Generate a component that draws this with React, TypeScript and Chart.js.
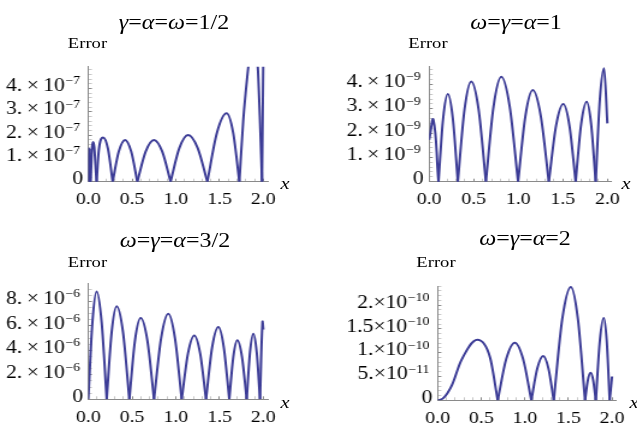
import React, { useEffect, useRef } from 'react';
import { Chart, registerables } from 'chart.js';

Chart.register(...registerables);

// ---------- data ----------
const xTickValues = [0, 0.5, 1, 1.5, 2];
const xTickLabels = ['0.0', '0.5', '1.0', '1.5', '2.0'];
const xMax = 2.05;

// Panel 1: γ=α=ω=1/2   (values in units of 1e-7); a repeated x marks a cusp (zero)
const p1Title = 'γ=α=ω=1/2';
const p1Unit = 1e-7;
const p1X = [0, 0.006, 0.012, 0.012, 0.018, 0.024, 0.024, 0.055, 0.095, 0.095, 0.12, 0.17, 0.225, 0.278, 0.278, 0.348, 0.42, 0.49, 0.56, 0.56, 0.655, 0.75, 0.845, 0.94, 0.94, 1.04, 1.14, 1.25, 1.36, 1.36, 1.47, 1.58, 1.655, 1.726, 1.726, 1.77, 1.8, 1.83, 1.88, 1.935, 1.96, 1.985, 1.985, 2.0];
const p1Y = [0, 1.45, 0, 0, 1.4, 0, 0, 1.7, 0, 0, 1.35, 1.89, 1.4, 0, 0, 1.29, 1.79, 1.29, 0, 0, 1.29, 1.79, 1.29, 0, 0, 1.44, 2.0, 1.44, 0, 0, 2.1, 2.93, 2.1, 0, 0, 2.6, 3.9, 5.0, 6.5, 5.0, 2.8, 0, 0, 5.5];
const p1YTicks = [0, 1, 2, 3, 4];
const p1YMant = ['0', '1.\u2009×\u200910', '2.\u2009×\u200910', '3.\u2009×\u200910', '4.\u2009×\u200910'];
const p1YExp = ['', '−7', '−7', '−7', '−7'];
const p1YMax = 4.93;
const p1YMinor = 0.2;

// Panel 2: ω=γ=α=1   (units of 1e-9)
const p2Title = 'ω=γ=α=1';
const p2Unit = 1e-9;
const p2X = [0, 0.048, 0.105, 0.105, 0.157, 0.21, 0.266, 0.322, 0.322, 0.397, 0.473, 0.555, 0.637, 0.637, 0.723, 0.81, 0.904, 0.998, 0.998, 1.08, 1.163, 1.253, 1.343, 1.343, 1.424, 1.505, 1.575, 1.644, 1.644, 1.706, 1.768, 1.818, 1.869, 1.869, 1.916, 1.963, 2.0];
const p2Y = [1.72, 2.54, 0, 0, 2.6, 3.61, 2.6, 0, 0, 2.97, 4.12, 2.97, 0, 0, 3.1, 4.32, 3.1, 0, 0, 2.7, 3.77, 2.7, 0, 0, 2.3, 3.2, 2.3, 0, 0, 2.37, 3.29, 2.37, 0, 0, 3.4, 4.67, 2.4];
const p2YTicks = [0, 1, 2, 3, 4];
const p2YMant = ['0', '1.\u2009×\u200910', '2.\u2009×\u200910', '3.\u2009×\u200910', '4.\u2009×\u200910'];
const p2YExp = ['', '−9', '−9', '−9', '−9'];
const p2YMax = 4.73;
const p2YMinor = 0.2;

// Panel 3: ω=γ=α=3/2   (units of 1e-6)
const p3Title = 'ω=γ=α=3/2';
const p3Unit = 1e-6;
const p3X = [0, 0.047, 0.095, 0.152, 0.21, 0.21, 0.267, 0.324, 0.396, 0.469, 0.469, 0.533, 0.598, 0.675, 0.751, 0.751, 0.832, 0.914, 0.99, 1.067, 1.067, 1.139, 1.211, 1.278, 1.345, 1.345, 1.415, 1.486, 1.548, 1.611, 1.611, 1.657, 1.703, 1.756, 1.81, 1.81, 1.848, 1.886, 1.924, 1.962, 1.962, 1.99, 2.0];
const p3Y = [0, 6.3, 8.8, 6.3, 0, 0, 5.5, 7.59, 5.5, 0, 0, 4.8, 6.64, 4.8, 0, 0, 5.0, 6.99, 5.0, 0, 0, 3.75, 5.22, 3.75, 0, 0, 4.25, 5.9, 4.25, 0, 0, 3.47, 4.82, 3.47, 0, 0, 3.86, 5.36, 3.86, 0, 0, 6.3, 5.7];
const p3YTicks = [0, 2, 4, 6, 8];
const p3YMant = ['0', '2.\u2009×\u200910', '4.\u2009×\u200910', '6.\u2009×\u200910', '8.\u2009×\u200910'];
const p3YExp = ['', '−6', '−6', '−6', '−6'];
const p3YMax = 9.44;
const p3YMinor = 0.5;

// Panel 4: ω=γ=α=2   (units of 1e-10)
const p4Title = 'ω=γ=α=2';
const p4Unit = 1e-10;
const p4X = [0, 0.06, 0.16, 0.27, 0.454, 0.6, 0.688, 0.688, 0.786, 0.884, 0.979, 1.074, 1.074, 1.142, 1.21, 1.27, 1.331, 1.331, 1.429, 1.527, 1.608, 1.69, 1.69, 1.722, 1.754, 1.784, 1.814, 1.814, 1.86, 1.905, 1.939, 1.973, 1.973, 2.0];
const p4Y = [0, 0.04, 0.31, 0.84, 1.27, 0.9, 0, 0, 0.87, 1.21, 0.87, 0, 0, 0.67, 0.93, 0.67, 0, 0, 1.71, 2.38, 1.71, 0, 0, 0.42, 0.58, 0.42, 0, 0, 1.25, 1.73, 1.25, 0, 0, 0.5];
const p4YTicks = [0, 0.5, 1, 1.5, 2];
const p4YMant = ['0', '5.×10', '1.×10', '1.5×10', '2.×10'];
const p4YExp = ['', '−11', '−10', '−10', '−10'];
const p4YMax = 2.40;
const p4YMinor = 0.1;

// ---------- style / layout ----------
const S = 1.2; // horizontal stretch of the whole figure
const FONT = '"Liberation Serif", "DejaVu Serif", "Times New Roman", serif';
const LINE = '#3c3c96';
const AXIS = '#8a8a8a';
const MINOR = '#c8c8c8';

type Cfg = {
  title: string; unit: number; xs: number[]; ys: number[];
  yTicks: number[]; yMant: string[]; yExp: string[]; yMax: number; yMinor: number;
  box: { left: number; top: number; width: number; height: number };
  plot: { l: number; x2: number; t: number; b: number };
  titlePos: [number, number]; errPos: [number, number]; xPos: [number, number];
};

const PANELS: Cfg[] = [
  { title: p1Title, unit: p1Unit, xs: p1X, ys: p1Y, yTicks: p1YTicks, yMant: p1YMant, yExp: p1YExp, yMax: p1YMax, yMinor: p1YMinor,
    box: { left: 0, top: 0, width: 318, height: 212 }, plot: { l: 88.3, x2: 263.3, t: 66.7, b: 181.7 },
    titlePos: [174, 22], errPos: [87.5, 43], xPos: [285, 183] },
  { title: p2Title, unit: p2Unit, xs: p2X, ys: p2Y, yTicks: p2YTicks, yMant: p2YMant, yExp: p2YExp, yMax: p2YMax, yMinor: p2YMinor,
    box: { left: 318, top: 0, width: 319, height: 212 }, plot: { l: 428.7, x2: 606.3, t: 66.7, b: 181.7 },
    titlePos: [516, 22], errPos: [428, 43], xPos: [626, 183] },
  { title: p3Title, unit: p3Unit, xs: p3X, ys: p3Y, yTicks: p3YTicks, yMant: p3YMant, yExp: p3YExp, yMax: p3YMax, yMinor: p3YMinor,
    box: { left: 0, top: 212, width: 318, height: 215 }, plot: { l: 88.3, x2: 263.3, t: 283.7, b: 399.3 },
    titlePos: [175, 240], errPos: [87.5, 262], xPos: [285, 402] },
  { title: p4Title, unit: p4Unit, xs: p4X, ys: p4Y, yTicks: p4YTicks, yMant: p4YMant, yExp: p4YExp, yMax: p4YMax, yMinor: p4YMinor,
    box: { left: 318, top: 212, width: 319, height: 215 }, plot: { l: 437.3, x2: 613.7, t: 286, b: 400.3 },
    titlePos: [525, 238], errPos: [436, 262], xPos: [634, 402] },
];

function minorTicks(max: number, step: number): number[] {
  const out: number[] = [];
  for (let i = 0; i * step <= max + 1e-9; i++) out.push(+(i * step).toFixed(6));
  return out;
}

function near(a: number, list: number[], eps: number) {
  return list.findIndex((v) => Math.abs(v - a) < eps);
}

// split a series into arches at repeated x values (cusps)
function arches(xs: number[], ys: number[], unit: number) {
  const segs: { x: number; y: number }[][] = [];
  let cur: { x: number; y: number }[] = [];
  xs.forEach((x, i) => {
    if (i > 0 && x === xs[i - 1]) { segs.push(cur); cur = []; }
    cur.push({ x, y: ys[i] * unit });
  });
  segs.push(cur);
  return segs;
}

function Panel({ cfg }: { cfg: Cfg }) {
  const ref = useRef<HTMLCanvasElement>(null);
  const { box, plot } = cfg;
  const pxPerUnit = (plot.x2 - plot.l) / 2;
  const right = plot.l + pxPerUnit * xMax;
  const leftW = (plot.l - box.left) / S;
  const padRight = (box.left + box.width - right) / S;
  const padTop = plot.t - box.top;
  const bottomSpace = box.top + box.height - plot.b;

  useEffect(() => {
    const u = cfg.unit;
    const xAll = minorTicks(2, 0.1);
    const yAll = minorTicks(cfg.yMax, cfg.yMinor);
    const yMaj = cfg.yTicks;
    const segs = arches(cfg.xs, cfg.ys, u);

    // y tick labels in scientific form, mantissa with a raised exponent, placed on the y scale
    const sciLabels = {
      id: 'sciLabels',
      afterDraw(chart: any) {
        const ys = chart.scales.y;
        const ctx = chart.ctx;
        ctx.save();
        ctx.fillStyle = '#000';
        ctx.textBaseline = 'middle';
        ctx.textAlign = 'right';
        yMaj.forEach((v, i) => {
          const py = ys.getPixelForValue(v * u) - 2;
          const exp = cfg.yExp[i];
          let x = ys.right - (exp ? 6.9 : 4.4);
          if (exp) {
            ctx.font = `11.5px ${FONT}`;
            ctx.fillText(exp, x, py - 5);
            x -= ctx.measureText(exp).width + 0.5;
          }
          ctx.font = `18px ${FONT}`;
          ctx.fillText(cfg.yMant[i], x, py);
        });
        ctx.restore();
      },
    };

    const chart = new Chart(ref.current!, {
      type: 'line',
      data: {
        datasets: segs.map((seg) => ({
          data: seg,
          borderColor: LINE,
          borderWidth: 2,
          pointRadius: 0,
          tension: 0.5,
          cubicInterpolationMode: seg.length > 3 ? 'monotone' : 'default',
          fill: false,
        })),
      },
      options: {
        animation: false,
        responsive: true,
        maintainAspectRatio: false,
        events: [],
        layout: { padding: { left: 0, top: padTop, right: padRight, bottom: 0 } },
        plugins: { legend: { display: false }, tooltip: { enabled: false }, title: { display: false } },
        scales: {
          x: {
            type: 'linear', min: 0, max: xMax,
            afterBuildTicks: (s: any) => { s.ticks = xAll.map((v) => ({ value: v })); },
            afterFit: (s: any) => { s.height = bottomSpace; },
            border: { display: true, color: AXIS, width: 1 },
            grid: {
              drawOnChartArea: false, drawTicks: true, tickLength: -3, tickWidth: 1,
              tickColor: (c: any) => (near(c.tick ? c.tick.value : -1, xTickValues, 1e-6) >= 0 ? AXIS : MINOR),
            },
            ticks: {
              autoSkip: false, maxRotation: 0, minRotation: 0, padding: 11, color: '#000',
              font: { family: FONT, size: 16.5 },
              callback: (v: any) => { const k = near(Number(v), xTickValues, 1e-6); return k >= 0 ? xTickLabels[k] : ''; },
            },
          },
          y: {
            type: 'linear', min: 0, max: cfg.yMax * u,
            afterBuildTicks: (s: any) => { s.ticks = yAll.map((v) => ({ value: v * u })); },
            afterFit: (s: any) => { s.width = leftW; },
            border: { display: true, color: AXIS, width: 1 },
            grid: {
              drawOnChartArea: false, drawTicks: true, tickLength: -3, tickWidth: 1,
              tickColor: (c: any) => (near(c.tick ? c.tick.value / u : -1, yMaj, 1e-6) >= 0 ? AXIS : MINOR),
            },
            ticks: { display: false, autoSkip: false },
          },
        },
      },
      plugins: [sciLabels],
    } as any);
    return () => chart.destroy();
  }, []);

  return (
    <div style={{ position: 'absolute', left: box.left / S, top: box.top, width: box.width / S, height: box.height }}>
      <canvas ref={ref} />
    </div>
  );
}

function Txt({ x, y, size, italic, children }: { x: number; y: number; size: number; italic?: boolean; children: any }) {
  return (
    <div style={{
      position: 'absolute', left: x / S, top: y, transform: 'translate(-50%, -50%)',
      fontFamily: FONT, fontSize: size, fontStyle: italic ? 'italic' : 'normal', lineHeight: 1,
      whiteSpace: 'nowrap', color: '#000',
    }}>{children}</div>
  );
}

function Title({ text }: { text: string }) {
  return <>{text.split('').map((ch, i) => (/[αγω]/.test(ch) ? <i key={i}>{ch}</i> : <span key={i}>{ch}</span>))}</>;
}

export default function App() {
  return (
    <div style={{
      position: 'fixed', left: 0, top: 0, width: 637 / S, height: 427, background: '#fff',
      transform: `scaleX(${S})`, transformOrigin: '0 0', overflow: 'hidden',
    }}>
      {PANELS.map((p, i) => <Panel key={i} cfg={p} />)}
      {PANELS.map((p, i) => (
        <React.Fragment key={'t' + i}>
          <Txt x={p.titlePos[0]} y={p.titlePos[1]} size={20}><Title text={p.title} /></Txt>
          <Txt x={p.errPos[0]} y={p.errPos[1]} size={15.5}>Error</Txt>
          <Txt x={p.xPos[0]} y={p.xPos[1]} size={17} italic>x</Txt>
        </React.Fragment>
      ))}
    </div>
  );
}
